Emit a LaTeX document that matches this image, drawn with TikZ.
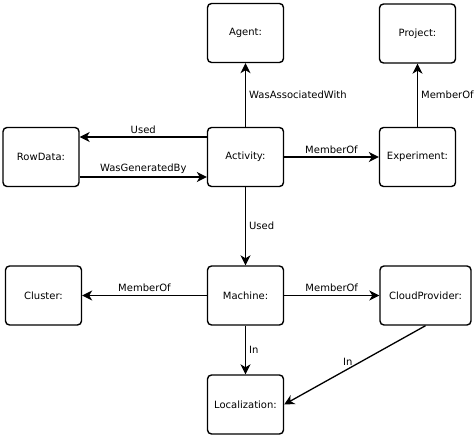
\documentclass[tikz,border=0pt]{standalone}
\usepackage{fontspec}
\setmainfont{DejaVu Sans}
\usetikzlibrary{arrows.meta}

\tikzset{
  entity/.style={draw, line width=1.4pt, rounded corners=4pt, minimum width=76pt, minimum height=59pt, font=\fontsize{10}{12}\selectfont},
  rel/.style={line width=1.3pt, -{Stealth[length=10pt,width=10pt,inset=3pt]}},
  lbl/.style={font=\fontsize{10}{12}\selectfont, inner sep=3pt}
}

\begin{document}
\begin{tikzpicture}[x=1pt,y=-1pt]

\useasboundingbox (0,0) rectangle (474,436);

\node [entity] (agent) at (245.5,33) {Agent:};
\node [entity] (project) at (417.5,33.5) {Project:};
\node [entity] (row) at (41,157) {RowData:};
\node [entity] (act) at (245.5,157) {Activity:};
\node [entity] (exp) at (417.5,157) {Experiment:};
\node [entity] (cluster) at (43.5,295.5) {Cluster:};
\node [entity] (mach) at (245.5,295.5) {Machine:};
\node [entity, minimum width=91pt] (cloud) at (425.5,295.5) {CloudProvider:};
\node [entity] (loc) at (245.5,404.5) {Localization:};

\draw [rel] (act) -- node [lbl, right] {WasAssociatedWith} (agent);
\draw [rel] (exp) -- node [lbl, right] {MemberOf} (project);
\draw [rel] ([yshift=20pt]act.west) -- node [lbl, above] {Used} ([yshift=20pt]row.east);
\draw [rel] ([yshift=-20pt]row.east) -- node [lbl, above] {WasGeneratedBy} ([yshift=-20pt]act.west);
\draw [rel] (act) -- node [lbl, above] {MemberOf} (exp);
\draw [rel] (act) -- node [lbl, right] {Used} (mach);
\draw [rel] (mach) -- node [lbl, above] {MemberOf} (cluster);
\draw [rel] (mach) -- node [lbl, above] {MemberOf} (cloud);
\draw [rel] (mach) -- node [lbl, right] {In} (loc);
\draw [rel] (cloud.south) -- node [lbl, above, pos=0.55] {In} (loc.east);

\end{tikzpicture}
\end{document}
